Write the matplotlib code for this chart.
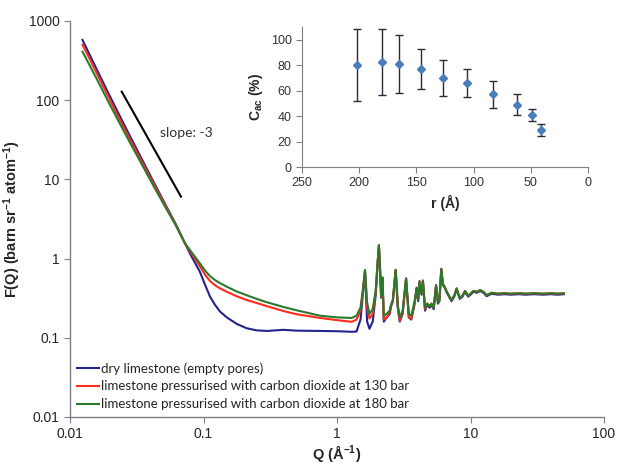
import matplotlib
matplotlib.use("Agg")
import matplotlib.pyplot as plt
from matplotlib.ticker import FixedLocator, FixedFormatter, NullLocator

plt.rcParams["font.family"] = ["Liberation Sans", "DejaVu Sans"]
plt.rcParams["mathtext.default"] = "regular"

# --- main panel data: F(Q) ---
q_low = [0.0124, 0.014, 0.016, 0.019, 0.023, 0.028, 0.034, 0.042, 0.052, 0.062, 0.0727]
dry_low = [577, 377, 237, 131, 68.7, 35.7, 18.9, 9.46, 4.75, 2.72, 1.55]
co2_130_low = [500, 335, 212, 118, 62, 32.5, 17.6, 9.0, 4.6, 2.68, 1.55]
co2_180_low = [410, 278, 180, 102, 55, 29.5, 16.2, 8.4, 4.4, 2.62, 1.55]

q_mid = [0.08, 0.094, 0.103, 0.112, 0.122, 0.133, 0.15, 0.177, 0.21, 0.25, 0.3,
         0.396, 0.5, 0.746, 1.0, 1.29]
dry_mid = [1.12, 0.68, 0.46, 0.33, 0.26, 0.214, 0.18, 0.15, 0.132, 0.124, 0.122,
           0.126, 0.123, 0.122, 0.121, 0.119]
co2_130_mid = [1.2, 0.80, 0.62, 0.52, 0.46, 0.42, 0.38, 0.335, 0.30, 0.275, 0.25,
               0.218, 0.198, 0.178, 0.167, 0.159]
co2_180_mid = [1.25, 0.87, 0.70, 0.60, 0.535, 0.49, 0.44, 0.385, 0.345, 0.31, 0.28,
               0.245, 0.222, 0.19, 0.181, 0.178]

q_high = [1.40, 1.50, 1.56, 1.62, 1.68, 1.75, 1.85, 1.95, 2.02, 2.06, 2.10, 2.14,
          2.19, 2.24, 2.35, 2.48, 2.54, 2.62, 2.75, 2.85, 2.95, 3.1, 3.29, 3.45,
          3.6, 3.8, 3.95, 4.05, 4.15, 4.3, 4.4, 4.56, 4.75, 4.95, 5.1, 5.3, 5.52,
          5.7, 5.85, 6.04, 6.2, 6.4, 6.65, 6.9, 7.2, 7.55, 7.87, 8.3, 8.7, 9.1,
          9.6, 10.0, 10.5, 11.2, 11.8, 12.5, 13.2, 14.4, 16, 18, 20, 23, 26, 30,
          35, 40, 45, 50]
dry_high = [0.12, 0.17, 0.35, 0.69, 0.16, 0.13, 0.16, 0.35, 0.95, 1.45, 0.72, 0.32,
            0.56, 0.16, 0.18, 0.20, 0.25, 0.29, 0.72, 0.24, 0.16, 0.20, 0.56, 0.18,
            0.17, 0.26, 0.43, 0.29, 0.52, 0.35, 0.53, 0.22, 0.26, 0.24, 0.26, 0.23,
            0.46, 0.27, 0.29, 0.74, 0.47, 0.43, 0.37, 0.33, 0.29, 0.33, 0.41, 0.31,
            0.33, 0.38, 0.33, 0.35, 0.38, 0.37, 0.39, 0.37, 0.335, 0.36, 0.35, 0.355,
            0.35, 0.355, 0.35, 0.355, 0.35, 0.355, 0.35, 0.355]
co2_130_high = [0.17, 0.22, 0.38, 0.71, 0.24, 0.175, 0.20, 0.38, 0.95, 1.47, 0.74, 0.33,
                0.57, 0.17, 0.18, 0.21, 0.26, 0.30, 0.72, 0.25, 0.165, 0.21, 0.56, 0.18,
                0.175, 0.27, 0.42, 0.30, 0.51, 0.36, 0.52, 0.23, 0.27, 0.25, 0.27, 0.24,
                0.46, 0.28, 0.30, 0.74, 0.48, 0.44, 0.38, 0.34, 0.30, 0.34, 0.42, 0.32,
                0.34, 0.39, 0.34, 0.36, 0.39, 0.38, 0.40, 0.38, 0.345, 0.37, 0.36, 0.365,
                0.36, 0.365, 0.36, 0.365, 0.36, 0.365, 0.36, 0.365]
co2_180_high = [0.19, 0.24, 0.40, 0.72, 0.28, 0.20, 0.23, 0.40, 0.95, 1.48, 0.75, 0.34,
                0.58, 0.19, 0.20, 0.22, 0.26, 0.30, 0.72, 0.26, 0.18, 0.22, 0.56, 0.20,
                0.19, 0.28, 0.42, 0.30, 0.50, 0.36, 0.52, 0.24, 0.27, 0.25, 0.27, 0.24,
                0.46, 0.28, 0.30, 0.74, 0.48, 0.44, 0.38, 0.34, 0.30, 0.34, 0.42, 0.32,
                0.34, 0.39, 0.34, 0.36, 0.39, 0.38, 0.40, 0.38, 0.345, 0.37, 0.36, 0.365,
                0.36, 0.365, 0.36, 0.365, 0.36, 0.365, 0.36, 0.365]

series_labels = ["dry limestone (empty pores)",
                 "limestone pressurised with carbon dioxide at 130 bar",
                 "limestone pressurised with carbon dioxide at 180 bar"]
series_colors = ["#23238c", "#ff2b1c", "#2b7a2b"]

x_ticks = [0.01, 0.1, 1, 10, 100]
x_tick_labels = ["0.01", "0.1", "1", "10", "100"]
y_ticks = [0.01, 0.1, 1, 10, 100, 1000]
y_tick_labels = ["0.01", "0.1", "1", "10", "100", "1000"]

slope_q = [0.0244, 0.0678]
slope_f = [128, 6.05]

# --- inset data: C_ac vs pore radius ---
r_vals = [202, 180, 165, 146, 127, 106, 83, 62, 49, 41]
cac_vals = [80, 82.5, 81, 77, 70, 66, 57, 49, 41, 29]
cac_err = [28.5, 26, 22.5, 15.5, 14, 11, 10.5, 8.5, 4.8, 4.5]

q_all = q_low + q_mid + q_high
curves = [dry_low + dry_mid + dry_high,
          co2_130_low + co2_130_mid + co2_130_high,
          co2_180_low + co2_180_mid + co2_180_high]

fig = plt.figure(figsize=(6.18, 4.63), dpi=100)
ax = fig.add_axes([0.1133, 0.0994, 0.8641, 0.8553])

for f_vals, lab, col in zip(curves, series_labels, series_colors):
    ax.plot(q_all, f_vals, color=col, lw=1.5, label=lab)

ax.plot(slope_q, slope_f, color="black", lw=1.5)
ax.text(0.047, 38, "slope: -3", fontsize=10, family=["Lato", "DejaVu Sans"],
        color="#333333", va="center")

ax.set_xscale("log")
ax.set_yscale("log")
ax.set_xlim(0.01, 100)
ax.set_ylim(0.01, 1000)
ax.xaxis.set_major_locator(FixedLocator(x_ticks))
ax.xaxis.set_major_formatter(FixedFormatter(x_tick_labels))
ax.yaxis.set_major_locator(FixedLocator(y_ticks))
ax.yaxis.set_major_formatter(FixedFormatter(y_tick_labels))
ax.xaxis.set_minor_locator(NullLocator())
ax.yaxis.set_minor_locator(NullLocator())

for side in ["top", "right"]:
    ax.spines[side].set_visible(False)
for side in ["left", "bottom"]:
    ax.spines[side].set_color("#7f7f8a")
    ax.spines[side].set_linewidth(1.0)
ax.tick_params(axis="both", which="major", length=4, color="#7f7f8a",
               labelsize=10, labelcolor="#262626")

ax.set_xlabel("Q (Å$^{-1}$)", fontsize=10.5, fontweight="bold", color="#262626", labelpad=1)
ax.set_ylabel("F(Q) (barn sr$^{-1}$ atom$^{-1}$)", fontsize=10.5, fontweight="bold",
              color="#262626", labelpad=4)

leg = ax.legend(loc="lower left", bbox_to_anchor=(0.0, 0.0), frameon=False,
                prop={"family": ["Lato", "DejaVu Sans"], "size": 9.5},
                handlelength=1.7, handletextpad=0.15, labelspacing=0.45,
                borderaxespad=0.3, borderpad=0.2)
for t in leg.get_texts():
    t.set_color("#262626")

# --- inset ---
axi = fig.add_axes([0.4887, 0.6393, 0.4628, 0.3024])
axi.errorbar(r_vals, cac_vals, yerr=cac_err, fmt="D", ms=4.5, color="#4a7ebb",
             ecolor="#2a2a3a", elinewidth=1.0, capsize=3, capthick=1.0)
axi.set_xlim(250, 0)
axi.set_ylim(0, 110)
axi.set_xticks([250, 200, 150, 100, 50, 0])
axi.set_yticks([0, 20, 40, 60, 80, 100])
for side in ["top", "right"]:
    axi.spines[side].set_visible(False)
for side in ["left", "bottom"]:
    axi.spines[side].set_color("#7f7f8a")
axi.tick_params(axis="both", length=4, color="#7f7f8a", labelsize=9, labelcolor="#333333")
axi.set_xlabel("r (Å)", fontsize=10, fontweight="bold", color="#262626", labelpad=4)
axi.set_ylabel("C$_{ac}$ (%)", fontsize=10, fontweight="bold", color="#262626", labelpad=4)

fig.savefig("out.png", dpi=100)
